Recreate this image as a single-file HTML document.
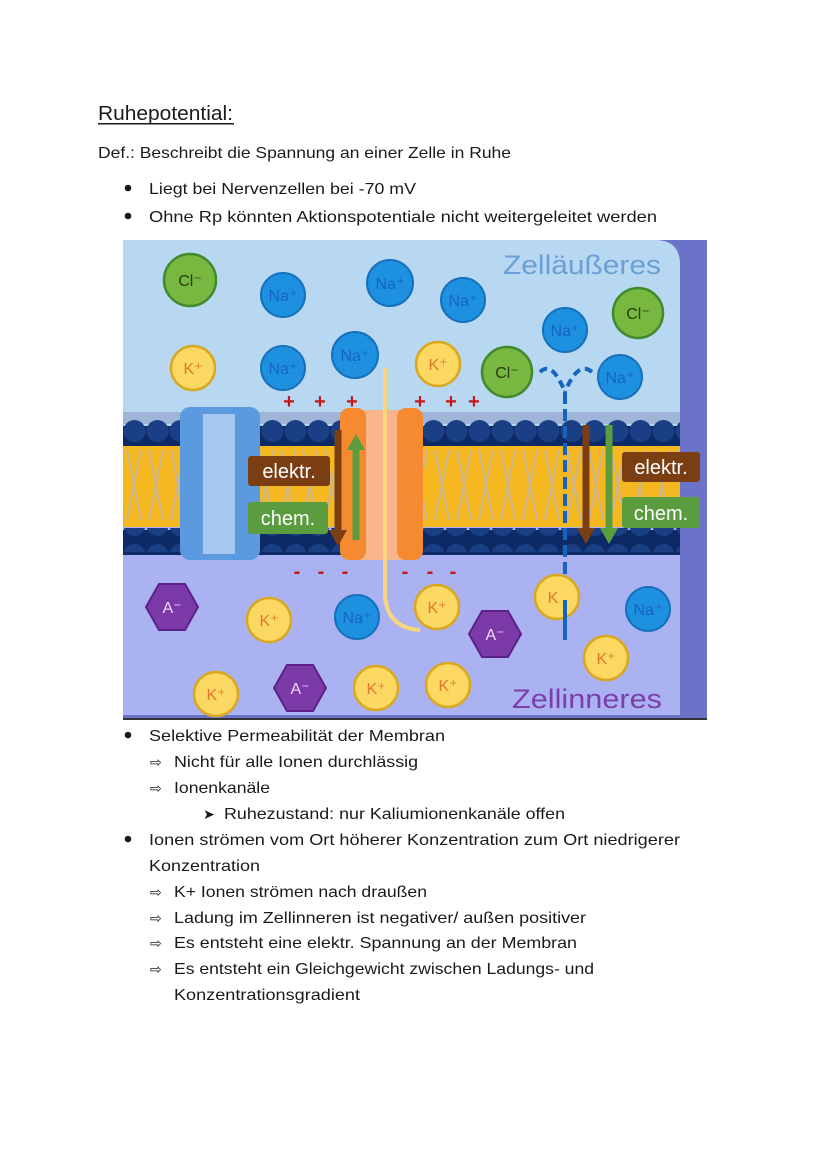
<!DOCTYPE html>
<html><head><meta charset="utf-8"><style>
html,body{margin:0;padding:0;background:#fff;width:828px;height:1171px;overflow:hidden}
svg{display:block}
text{font-family:"Liberation Sans",sans-serif}
</style></head><body>
<svg width="828" height="1171" viewBox="0 0 828 1171" xmlns="http://www.w3.org/2000/svg">
<defs>
<pattern id="tails" x="123" y="445" width="22" height="80" patternUnits="userSpaceOnUse">
<rect width="22" height="80" fill="#f5b820"/>
<path d="M4 5 L11 40 L4 75 M18 5 L11 40 L18 75" stroke="#aab2e0" stroke-width="2" fill="none" opacity="0.6"/>
</pattern>
<pattern id="heads" x="123" y="420" width="23" height="30" patternUnits="userSpaceOnUse">
<circle cx="11.5" cy="11" r="11" fill="#1b3f85"/>
</pattern>
</defs>
<g fill="#1a1a1a" font-size="16">
<text x="98" y="120" font-size="20" textLength="135" lengthAdjust="spacingAndGlyphs">Ruhepotential:</text>
<rect x="98" y="123" width="136" height="1.5"/>
<text x="98" y="158" textLength="413" lengthAdjust="spacingAndGlyphs">Def.: Beschreibt die Spannung an einer Zelle in Ruhe</text>
<circle cx="128" cy="188" r="3.3"/><text x="149" y="194" textLength="267" lengthAdjust="spacingAndGlyphs">Liegt bei Nervenzellen bei -70 mV</text>
<circle cx="128" cy="216" r="3.3"/><text x="149" y="222" textLength="508" lengthAdjust="spacingAndGlyphs">Ohne Rp könnten Aktionspotentiale nicht weitergeleitet werden</text>

<circle cx="128" cy="735" r="3.3"/><text x="149" y="741" textLength="296" lengthAdjust="spacingAndGlyphs">Selektive Permeabilität der Membran</text>
<text x="150" y="767" font-size="14">⇨</text><text x="174" y="767" textLength="244" lengthAdjust="spacingAndGlyphs">Nicht für alle Ionen durchlässig</text>
<text x="150" y="793" font-size="14">⇨</text><text x="174" y="793" textLength="96" lengthAdjust="spacingAndGlyphs">Ionenkanäle</text>
<text x="203" y="819" font-size="14">➤</text><text x="224" y="819" textLength="341" lengthAdjust="spacingAndGlyphs">Ruhezustand: nur Kaliumionenkanäle offen</text>
<circle cx="128" cy="839" r="3.3"/><text x="149" y="845" textLength="531" lengthAdjust="spacingAndGlyphs">Ionen strömen vom Ort höherer Konzentration zum Ort niedrigerer</text>
<text x="149" y="871" textLength="111" lengthAdjust="spacingAndGlyphs">Konzentration</text>
<text x="150" y="897" font-size="14">⇨</text><text x="174" y="897" textLength="253" lengthAdjust="spacingAndGlyphs">K+ Ionen strömen nach draußen</text>
<text x="150" y="923" font-size="14">⇨</text><text x="174" y="923" textLength="412" lengthAdjust="spacingAndGlyphs">Ladung im Zellinneren ist negativer/ außen positiver</text>
<text x="150" y="948" font-size="14">⇨</text><text x="174" y="948" textLength="403" lengthAdjust="spacingAndGlyphs">Es entsteht eine elektr. Spannung an der Membran</text>
<text x="150" y="974" font-size="14">⇨</text><text x="174" y="974" textLength="420" lengthAdjust="spacingAndGlyphs">Es entsteht ein Gleichgewicht zwischen Ladungs- und</text>
<text x="174" y="1000" textLength="186" lengthAdjust="spacingAndGlyphs">Konzentrationsgradient</text>
</g>

<!-- diagram -->
<rect x="123" y="240" width="584" height="480" fill="#6b73c8"/>
<path d="M123 240 H655 Q680 240 680 265 V715 H123 Z" fill="#aab2f2"/>
<path d="M123 240 H655 Q680 240 680 265 V430 H123 Z" fill="#b8d8f2"/>
<rect x="123" y="718" width="584" height="2" fill="#333"/>
<!-- membrane -->
<rect x="123" y="445" width="557" height="82" fill="url(#tails)"/>
<rect x="123" y="412" width="557" height="12" fill="#9fb5d8"/>
<rect x="123" y="426" width="557" height="20" fill="#0e2a66"/>
<rect x="123" y="418" width="557" height="24" fill="url(#heads)"/>
<rect x="123" y="530" width="557" height="25" fill="#0e2a66"/>
<rect x="123" y="524" width="557" height="24" fill="url(#heads)" transform="translate(0,4)"/>
<!-- blue channel -->
<rect x="180" y="407" width="80" height="153" rx="10" fill="#5b9ade"/>
<rect x="203" y="414" width="32" height="140" fill="#a6c8ee"/>
<!-- orange channel -->
<rect x="355" y="410" width="50" height="150" fill="#f8b48a"/>
<rect x="340" y="408" width="26" height="152" rx="9" fill="#f58a30"/>
<rect x="397" y="408" width="26" height="152" rx="9" fill="#f58a30"/>
<path d="M385 368 V595 Q387 628 420 630" stroke="#f7d67e" stroke-width="4" fill="none"/>
<!-- arrows left -->
<path d="M338 430 V533" stroke="#7a3e12" stroke-width="7"/><path d="M329 530 L338 546 L347 530 Z" fill="#7a3e12"/>
<path d="M356 540 V448" stroke="#5a9c3e" stroke-width="7"/><path d="M347 450 L356 434 L365 450 Z" fill="#5a9c3e"/>
<rect x="248" y="456" width="82" height="30" rx="3" fill="#7a3e12"/>
<text x="289" y="478" font-size="20" fill="#fff" text-anchor="middle">elektr.</text>
<rect x="248" y="502" width="80" height="32" rx="3" fill="#5a9c3e"/>
<text x="288" y="525" font-size="20" fill="#fff" text-anchor="middle">chem.</text>
<!-- right channel dashed -->
<path d="M565 392 V640" stroke="#1565c0" stroke-width="4" stroke-dasharray="12 5"/>
<path d="M540 372 Q552 360 565 392 M592 372 Q578 360 565 392" stroke="#1565c0" stroke-width="4" fill="none" stroke-dasharray="8 5"/>
<path d="M586 425 V530" stroke="#7a3e12" stroke-width="7"/><path d="M577 528 L586 544 L595 528 Z" fill="#7a3e12"/>
<path d="M609 425 V530" stroke="#5a9c3e" stroke-width="7"/><path d="M600 528 L609 544 L618 528 Z" fill="#5a9c3e"/>
<rect x="622" y="452" width="78" height="30" rx="3" fill="#7a3e12"/>
<text x="661" y="474" font-size="20" fill="#fff" text-anchor="middle">elektr.</text>
<rect x="622" y="497" width="78" height="31" rx="3" fill="#5a9c3e"/>
<text x="661" y="520" font-size="20" fill="#fff" text-anchor="middle">chem.</text>
<!-- charges -->
<g fill="#c4161c" font-size="20" font-weight="bold" text-anchor="middle">
<text x="289" y="408">+</text><text x="320" y="408">+</text><text x="352" y="408">+</text><text x="420" y="408">+</text><text x="451" y="408">+</text><text x="474" y="408">+</text>
<text x="297" y="578">-</text><text x="321" y="578">-</text><text x="345" y="578">-</text><text x="405" y="578">-</text><text x="430" y="578">-</text><text x="453" y="578">-</text>
</g>
<text x="503" y="274" font-size="27" fill="#6a9fd8" textLength="158" lengthAdjust="spacingAndGlyphs">Zelläußeres</text>
<text x="512" y="708" font-size="27" fill="#7a3fa8" textLength="150" lengthAdjust="spacingAndGlyphs">Zellinneres</text>
<!-- ions -->
<g font-size="16" text-anchor="middle">
<g fill="#78b840" stroke="#3f8a2a" stroke-width="2.5">
<circle cx="190" cy="280" r="26"/><circle cx="638" cy="313" r="25"/><circle cx="507" cy="372" r="25"/></g>
<g fill="#2a3a10"><text x="190" y="286">Cl⁻</text><text x="638" y="319">Cl⁻</text><text x="507" y="378">Cl⁻</text></g>
<g fill="#1e90e0" stroke="#1670bb" stroke-width="2">
<circle cx="283" cy="295" r="22"/><circle cx="390" cy="283" r="23"/><circle cx="463" cy="300" r="22"/><circle cx="565" cy="330" r="22"/><circle cx="283" cy="368" r="22"/><circle cx="355" cy="355" r="23"/><circle cx="620" cy="377" r="22"/><circle cx="357" cy="617" r="22"/><circle cx="648" cy="609" r="22"/></g>
<g fill="#1565c0"><text x="283" y="301">Na⁺</text><text x="390" y="289">Na⁺</text><text x="463" y="306">Na⁺</text><text x="565" y="336">Na⁺</text><text x="283" y="374">Na⁺</text><text x="355" y="361">Na⁺</text><text x="620" y="383">Na⁺</text><text x="357" y="623">Na⁺</text><text x="648" y="615">Na⁺</text></g>
<g fill="#fbd862" stroke="#d9a820" stroke-width="2.5">
<circle cx="193" cy="368" r="22"/><circle cx="438" cy="364" r="22"/><circle cx="269" cy="620" r="22"/><circle cx="437" cy="607" r="22"/><circle cx="557" cy="597" r="22"/><circle cx="606" cy="658" r="22"/><circle cx="216" cy="694" r="22"/><circle cx="376" cy="688" r="22"/><circle cx="448" cy="685" r="22"/></g>
<g fill="#e0782a"><text x="193" y="374">K⁺</text><text x="438" y="370">K⁺</text><text x="269" y="626">K⁺</text><text x="437" y="613">K⁺</text><text x="553" y="603">K</text><text x="606" y="664">K⁺</text><text x="216" y="700">K⁺</text><text x="376" y="694">K⁺</text><text x="448" y="691">K⁺</text></g>
<path d="M565 600 V640" stroke="#1565c0" stroke-width="4"/>
<g fill="#7b3aa8" stroke="#5a2288" stroke-width="2">
<polygon points="159,584 185,584 198,607 185,630 159,630 146,607"/>
<polygon points="482,611 508,611 521,634 508,657 482,657 469,634"/>
<polygon points="287,665 313,665 326,688 313,711 287,711 274,688"/></g>
<g fill="#f0d8ff"><text x="172" y="613">A⁻</text><text x="495" y="640">A⁻</text><text x="300" y="694">A⁻</text></g>
</g>
</svg>
</body></html>
